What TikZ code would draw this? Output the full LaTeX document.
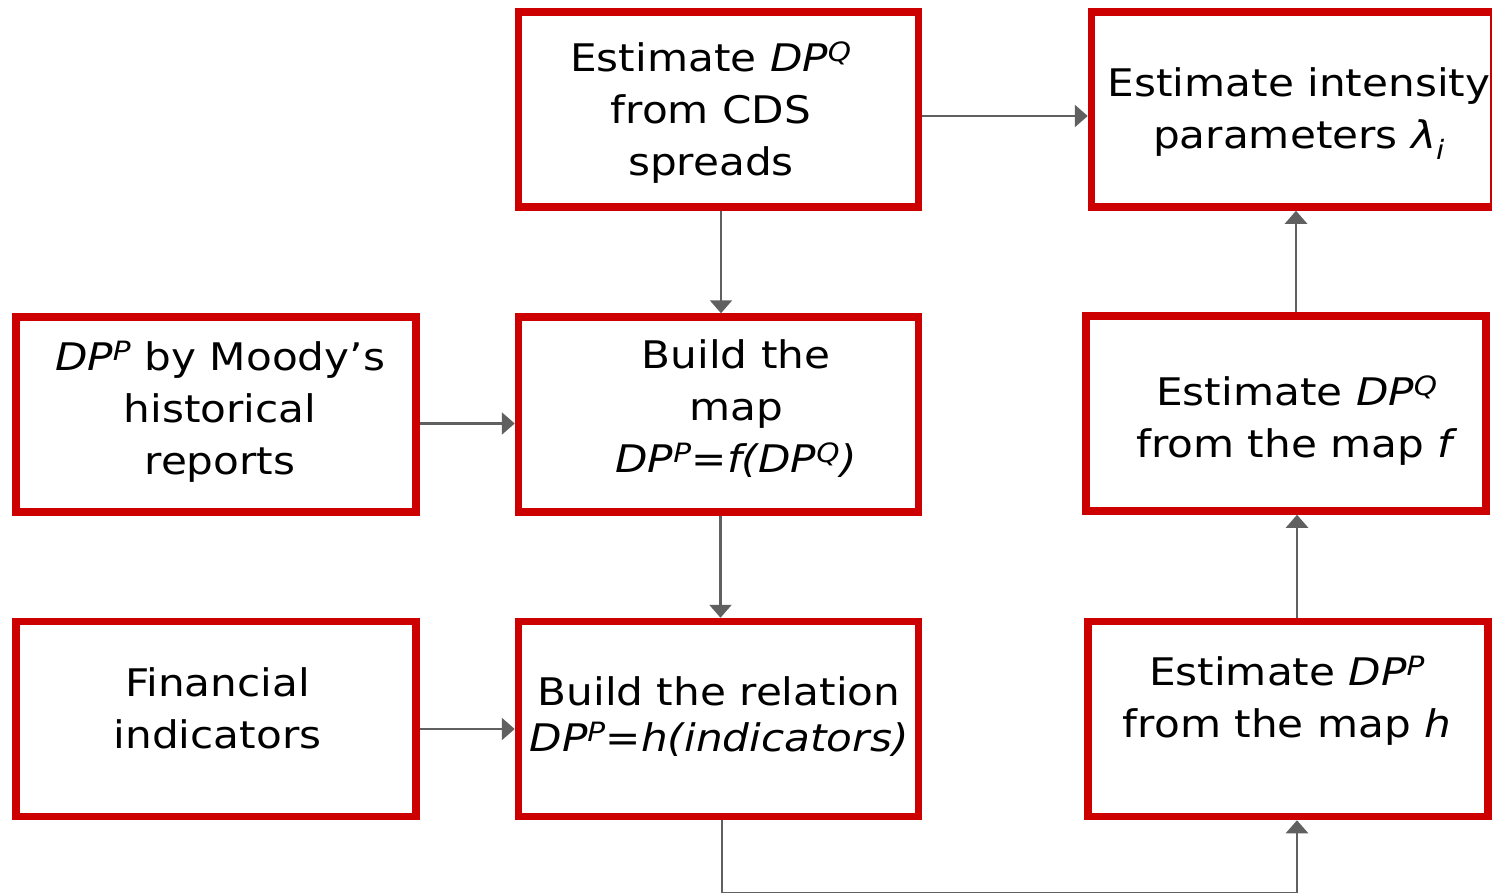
\documentclass[tikz,border=0pt]{standalone}
\usepackage{fontspec}
\setmainfont[FakeStretch=1.11]{DejaVu Sans}
\usetikzlibrary{arrows.meta}
\definecolor{boxred}{RGB}{204,0,0}
\definecolor{linkgray}{RGB}{96,96,96}
% italic DP with a raised measure letter
\newcommand\dpsup[1]{\textit{DP\textsuperscript{#1}}}

\begin{document}
\begin{tikzpicture}[x=1pt,y=-1pt,
  stepbox/.style={draw=boxred,line width=7.5pt,minimum width=400pt,
    minimum height=195pt,inner sep=0pt},
  boxtext/.style={anchor=base,align=center,inner sep=0pt,
    font=\fontsize{38}{52}\selectfont},
  link/.style={draw=linkgray,line width=2.5pt,
    -{Triangle[width=22pt,length=13pt]}}]
\useasboundingbox (0,0) rectangle (1492,892);

% boxes
\node[stepbox] (cds)    at (718.5,109.5) {};
\node[stepbox,minimum width=402pt] (lambda) at (1292.5,109.5) {};
\node[stepbox] (moody)  at (216,414.5)   {};
\node[stepbox] (map)    at (718.5,414.5) {};
\node[stepbox] (estq)   at (1286,413.5)  {};
\node[stepbox] (fin)    at (216,719)     {};
\node[stepbox] (rel)    at (718.5,719)   {};
\node[stepbox] (estp)   at (1288,719)    {};

% box texts (anchored at the baseline of their last line)
\node[boxtext] (cdsT) at ([shift={(-7.5,65.5)}]cds.center)
  {Estimate \dpsup{Q}\\from CDS\\spreads};
\node[boxtext] (lambdaT) at ([shift={(6.5,38.5)}]lambda.center)
  {Estimate intensity\\parameters \textit{λ\textsubscript{i}}};
\node[boxtext] (moodyT) at ([shift={(4,59.5)}]moody.center)
  {\dpsup{P} by Moody’s\\historical\\reports};
\node[boxtext] (mapT) at ([shift={(17.5,57.5)}]map.center)
  {Build the\\map\\\textit{DP\textsuperscript{P}=f(DP\textsuperscript{Q})}};
\node[boxtext] (estqT) at ([shift={(11,43.5)}]estq.center)
  {Estimate \dpsup{Q}\\from the map \textit{f}};
\node[boxtext] (finT) at ([shift={(1.5,29)}]fin.center)
  {Financial\\indicators};
\node[boxtext,font=\fontsize{38}{46}\selectfont] (relT)
  at ([shift={(0.5,32)}]rel.center)
  {Build the relation\\\textit{DP\textsuperscript{P}=h(indicators)}};
\node[boxtext] (estpT) at ([shift={(-1,18)}]estp.center)
  {Estimate \dpsup{P}\\from the map \textit{h}};

% connectors
\coordinate (low) at (0,893.5);
\draw[link] ([yshift=-6.5pt]cds.east) -- ([yshift=-6.5pt]cds.east -| lambda.west);
\draw[link] ([xshift=2.5pt]cds.south) -- ([xshift=2.5pt]cds.south |- map.north);
\draw[link] ([yshift=-9pt]moody.east) -- ([yshift=-9pt]moody.east -| map.west);
\draw[link] ([xshift=2pt]map.south) -- ([xshift=2pt]map.south |- rel.north);
\draw[link] ([yshift=-10pt]fin.east) -- ([yshift=-10pt]fin.east -| rel.west);
\draw[link] ([xshift=10pt]estq.north) -- ([xshift=10pt]estq.north |- lambda.south);
\draw[link] ([xshift=9pt]estp.north) -- ([xshift=9pt]estp.north |- estq.south);
\draw[link] ([xshift=3.5pt]rel.south) -- ([xshift=3.5pt]rel.south |- low)
  -| ([xshift=9pt]estp.south);
\end{tikzpicture}
\end{document}
